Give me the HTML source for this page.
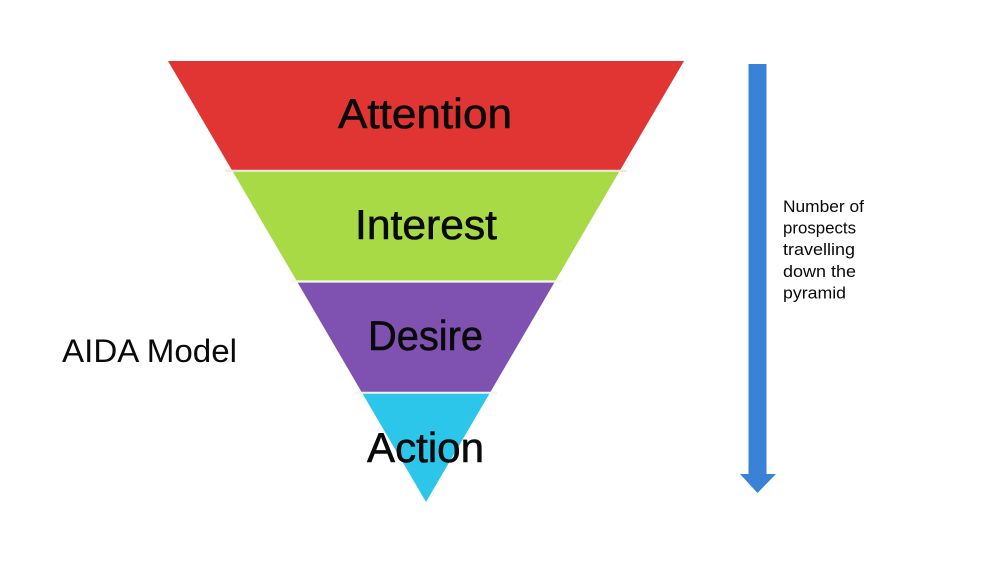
<!DOCTYPE html>
<html>
<head>
<meta charset="utf-8">
<style>
  html, body { margin: 0; padding: 0; background: #ffffff; }
  body { width: 1000px; height: 562px; overflow: hidden; }
  svg { display: block; }
  text { font-family: "Liberation Sans", "DejaVu Sans", sans-serif; fill: #0a0a0a; }
</style>
</head>
<body>
<svg width="1000" height="562" viewBox="0 0 1000 562" xmlns="http://www.w3.org/2000/svg">
  <rect x="0" y="0" width="1000" height="562" fill="#ffffff"/>

  <!-- Pyramid bands -->
  <polygon points="168,61 684,61 619.9,170.5 232.1,170.5" fill="#e03532"/>
  <polygon points="232.1,170.5 619.9,170.5 555.1,281.3 296.9,281.3" fill="#a8da45"/>
  <polygon points="296.9,281.3 555.1,281.3 490,392.7 362,392.7" fill="#7f52b1"/>
  <polygon points="362,392.7 490,392.7 426,502 " fill="#2dc6eb"/>

  <!-- separators -->
  <line x1="225" y1="170.8" x2="627" y2="170.8" stroke="#f3ead8" stroke-width="2.2"/>
  <line x1="290" y1="281.5" x2="562" y2="281.5" stroke="#f4f8ee" stroke-width="2.2"/>
  <line x1="355" y1="392.8" x2="497" y2="392.8" stroke="#eef4fa" stroke-width="2"/>

  <!-- Labels in pyramid -->
  <text x="338" y="128" font-size="42" stroke="#0a0a0a" stroke-width="0.6" textLength="174" lengthAdjust="spacingAndGlyphs">Attention</text>
  <text x="355" y="239" font-size="42" stroke="#0a0a0a" stroke-width="0.6" textLength="142" lengthAdjust="spacingAndGlyphs">Interest</text>
  <text x="368" y="350" font-size="42" stroke="#0a0a0a" stroke-width="0.6" textLength="115" lengthAdjust="spacingAndGlyphs">Desire</text>
  <text x="367" y="462" font-size="42" stroke="#0a0a0a" stroke-width="0.6" textLength="117" lengthAdjust="spacingAndGlyphs">Action</text>

  <!-- AIDA Model -->
  <text x="62" y="362" font-size="32" textLength="175" lengthAdjust="spacingAndGlyphs">AIDA Model</text>

  <!-- Arrow -->
  <rect x="748.5" y="64" width="18" height="411" fill="#3a82d8"/>
  <polygon points="740,474 776,474 757.5,493" fill="#3a82d8"/>

  <!-- Side text -->
  <text x="783" y="212" font-size="17" textLength="81" lengthAdjust="spacingAndGlyphs">Number of</text>
  <text x="783" y="233.5" font-size="17" textLength="73" lengthAdjust="spacingAndGlyphs">prospects</text>
  <text x="783" y="255" font-size="17" textLength="72" lengthAdjust="spacingAndGlyphs">travelling</text>
  <text x="783" y="277" font-size="17" textLength="73" lengthAdjust="spacingAndGlyphs">down the</text>
  <text x="783" y="298.5" font-size="17" textLength="63" lengthAdjust="spacingAndGlyphs">pyramid</text>
</svg>
</body>
</html>
